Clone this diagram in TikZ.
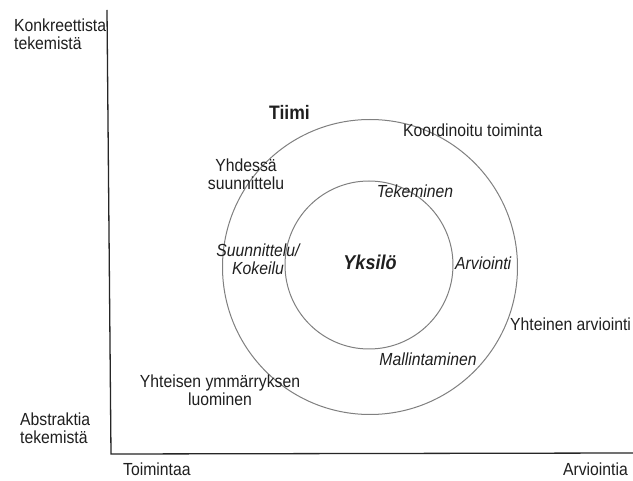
\documentclass[tikz,border=0pt]{standalone}
\usepackage{fontspec}
\setmainfont{Liberation Sans}[FakeStretch=0.9]
\begin{document}
\begin{tikzpicture}[x=1pt,y=-1pt,
  lbl/.style={font=\fontsize{17.5}{18}\selectfont, text=black!88, inner sep=0pt, align=center},
  ilbl/.style={lbl, font=\fontsize{17.5}{18}\selectfont\itshape},
  ring/.style={draw=black!50, line width=1pt},
  axis/.style={draw=black!85, line width=1.3pt}]
  % canvas
  \path[use as bounding box, fill=white] (0,0) rectangle (633,481);

  % axes
  \coordinate (top) at (107,10);
  \coordinate (origin) at (111,454);
  \coordinate (right) at (633,453);
  \draw[axis] (top) -- (origin) -- (right);

  % team and individual rings
  \node[ring, circle, minimum size=295pt, inner sep=0pt] (team) at (370,267) {};
  \node[ring, circle, minimum size=168pt, inner sep=0pt] (self) at (369,265) {};

  % axis labels
  \node[lbl, align=left, anchor=north west] (concrete) at (14,19) {Konkreettista\\tekemistä};
  \node[lbl, align=left, anchor=north west] (abstract) at (20,412.5) {Abstraktia\\tekemistä};
  \node[lbl, anchor=base west] (action) at (123,476) {Toimintaa};
  \node[lbl, anchor=base east] (evaluation) at (628,476) {Arviointia};

  % team level
  \node[lbl, anchor=base, font=\fontsize{19.5}{20}\selectfont\bfseries] (tiimi) at (289.5,120) {Tiimi};
  \node[lbl, anchor=base west] (coord) at (403,136.5) {Koordinoitu toiminta};
  \node[lbl, anchor=north] (plan) at (246,158.5) {Yhdessä\\suunnittelu};
  \node[lbl, anchor=base west] (jointeval) at (510,330.5) {Yhteinen arviointi};
  \node[lbl, anchor=north] (understand) at (220,375) {Yhteisen ymmärryksen\\luominen};

  % individual level
  \node[lbl, anchor=base, font=\fontsize{20}{20}\selectfont\bfseries\itshape] (yksilo) at (370,270) {Yksilö};
  \node[ilbl, anchor=base] (doing) at (415,198) {Tekeminen};
  \node[ilbl, anchor=north] (trial) at (258,244) {Suunnittelu/\\Kokeilu};
  \node[ilbl, anchor=base west] (assess) at (455,270) {Arviointi};
  \node[ilbl, anchor=base] (model) at (428,366) {Mallintaminen};
\end{tikzpicture}
\end{document}
